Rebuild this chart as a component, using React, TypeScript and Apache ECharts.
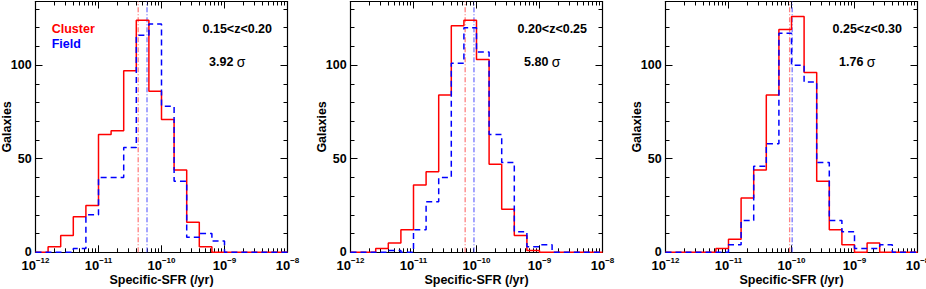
import React, { useEffect, useRef } from 'react';
import * as echarts from 'echarts';

// Histogram bins: left edges of log10(sSFR) bins, 0.2 dex wide
const binLefts = [-12.0, -11.8, -11.6, -11.4, -11.2, -11.0, -10.8, -10.6, -10.4, -10.2, -10.0, -9.8, -9.6, -9.4, -9.2, -9.0, -8.8, -8.6, -8.4, -8.2];
const binWidth = 0.2;

// Panel 1: 0.15<z<0.20
const cluster1 = [0, 3, 9, 19, 25, 63, 65, 97, 124, 86, 71, 44, 16, 3, 0, 0, 0, 0, 0, 0];
const field1 = [0, 0, 0, 2, 20, 40, 40, 56, 116, 122, 78, 38, 8, 10, 6, 0, 0, 0, 0, 0];
// Panel 2: 0.20<z<0.25
const cluster2 = [0, 0, 2, 5, 12, 36, 43, 84, 121, 124, 103, 47, 23, 9, 1, 0, 0, 0, 0, 0];
const field2 = [0, 0, 0, 1, 0, 12, 27, 40, 101, 120, 107, 63, 48, 11, 3, 4, 0, 0, 0, 0];
// Panel 3: 0.25<z<0.30
const cluster3 = [0, 0, 0, 0, 2, 7, 29, 44, 84, 119, 126, 96, 38, 12, 4, 0, 5, 0, 0, 0];
const field3 = [0, 0, 0, 0, 0, 4, 17, 46, 58, 117, 100, 91, 48, 17, 11, 2, 2, 4, 0, 0];

const clusterMedians = [-10.37, -10.18, -10.03];
const fieldMedians = [-10.23, -10.04, -9.99];
const zLabels = ['0.15<z<0.20', '0.20<z<0.25', '0.25<z<0.30'];
const sigmaLabels = ['3.92', '5.80', '1.76'];

const xMin = -12;
const xMax = -8;
const xMajorTicks = [-12, -11, -10, -9, -8];
const yMax = 134;
const yMajorTicks = [0, 50, 100];
const yMinorTicks = [10, 20, 30, 40, 60, 70, 80, 90, 110, 120, 130];

const FONT = '"Liberation Sans", Arial, Helvetica, sans-serif';
const PANEL_LEFT = [35.5, 350.5, 665.5];
const GRID_TOP = 1.5;
const GRID_W = 252;
const GRID_H = 250.8;

function histData(counts: number[]) {
  const pts: number[][] = binLefts.map((e, j) => [e, counts[j]]);
  const last = binLefts.length - 1;
  pts.push([binLefts[last] + binWidth, counts[last]]);
  return pts;
}

function buildOption() {
  const clusters = [cluster1, cluster2, cluster3];
  const fields = [field1, field2, field3];
  const xMinorTicks: number[] = [];
  for (let n = xMin; n < xMax; n++) {
    for (let k = 2; k <= 9; k++) xMinorTicks.push(n + Math.log10(k));
  }

  const grids: any[] = [];
  const xAxes: any[] = [];
  const yAxes: any[] = [];
  const series: any[] = [];
  const graphics: any[] = [];

  const axisLineStyle = { color: '#000', width: 1.2 };
  const tickStyle = { color: '#000', width: 1 };
  const labelRich = {
    b: { fontSize: 13, fontWeight: 'bold', fontFamily: FONT, color: '#000', lineHeight: 13, verticalAlign: 'bottom' },
    s: { fontSize: 8, fontWeight: 'bold', fontFamily: FONT, color: '#000', lineHeight: 8, padding: [0, 0, 7, 0], verticalAlign: 'bottom' },
  };

  for (let i = 0; i < 3; i++) {
    const L = PANEL_LEFT[i];
    grids.push({ left: L, top: GRID_TOP, width: GRID_W, height: GRID_H, containLabel: false, outerBoundsMode: 'none' });

    const xBase = { gridIndex: i, type: 'value', min: xMin, max: xMax, splitLine: { show: false } };
    xAxes.push(
      {
        ...xBase,
        position: 'bottom',
        interval: 1,
        axisLine: { show: true, onZero: false, lineStyle: axisLineStyle },
        axisTick: { show: true, inside: true, length: 7, lineStyle: tickStyle, customValues: xMajorTicks },
        axisLabel: {
          show: true,
          margin: 6.5,
          customValues: xMajorTicks,
          fontSize: 13,
          fontWeight: 'bold',
          fontFamily: FONT,
          color: '#000',
          formatter: (v: number) => {
            const e = Math.round(v);
            return '{b|10}{s|' + (e < 0 ? '\u2212' : '') + Math.abs(e) + '}';
          },
          rich: labelRich,
        },
        name: 'Specific-SFR (/yr)',
        nameLocation: 'middle',
        nameGap: 28,
        nameMoveOverlap: false,
        nameTextStyle: { fontSize: 12.5, fontWeight: 'bold', fontFamily: FONT, color: '#000', verticalAlign: 'middle' },
      },
      {
        ...xBase,
        position: 'bottom',
        axisLine: { show: false, onZero: false },
        axisTick: { show: true, inside: true, length: 4, lineStyle: tickStyle, customValues: xMinorTicks },
        axisLabel: { show: false },
      },
      {
        ...xBase,
        position: 'top',
        interval: 1,
        axisLine: { show: true, onZero: false, lineStyle: axisLineStyle },
        axisTick: { show: true, inside: true, length: 7, lineStyle: tickStyle, customValues: xMajorTicks },
        axisLabel: { show: false },
      },
      {
        ...xBase,
        position: 'top',
        axisLine: { show: false, onZero: false },
        axisTick: { show: true, inside: true, length: 4, lineStyle: tickStyle, customValues: xMinorTicks },
        axisLabel: { show: false },
      }
    );

    const yBase = { gridIndex: i, type: 'value', min: 0, max: yMax, splitLine: { show: false } };
    yAxes.push(
      {
        ...yBase,
        position: 'left',
        axisLine: { show: true, onZero: false, lineStyle: axisLineStyle },
        axisTick: { show: true, inside: true, length: 7, lineStyle: tickStyle, customValues: yMajorTicks },
        axisLabel: {
          show: true,
          margin: 3.8,
          customValues: yMajorTicks,
          fontSize: 12.5,
          fontWeight: 'bold',
          fontFamily: FONT,
          color: '#000',
        },
        name: 'Galaxies',
        nameLocation: 'middle',
        nameGap: 28.7,
        nameMoveOverlap: false,
        nameTextStyle: { fontSize: 12.5, fontWeight: 'bold', fontFamily: FONT, color: '#000', verticalAlign: 'middle' },
      },
      {
        ...yBase,
        position: 'left',
        axisLine: { show: false, onZero: false },
        axisTick: { show: true, inside: true, length: 4, lineStyle: tickStyle, customValues: yMinorTicks },
        axisLabel: { show: false },
      },
      {
        ...yBase,
        position: 'right',
        axisLine: { show: true, onZero: false, lineStyle: axisLineStyle },
        axisTick: { show: true, inside: true, length: 7, lineStyle: tickStyle, customValues: yMajorTicks },
        axisLabel: { show: false },
      },
      {
        ...yBase,
        position: 'right',
        axisLine: { show: false, onZero: false },
        axisTick: { show: true, inside: true, length: 4, lineStyle: tickStyle, customValues: yMinorTicks },
        axisLabel: { show: false },
      }
    );

    const xi = i * 4;
    const yi = i * 4;
    series.push(
      {
        type: 'line',
        name: 'Cluster median ' + (i + 1),
        xAxisIndex: xi,
        yAxisIndex: yi,
        data: [[clusterMedians[i], 0], [clusterMedians[i], yMax]],
        symbol: 'none',
        lineStyle: { color: '#ff7f7f', width: 1.3, type: [5, 2, 1, 2] },
        z: 1,
        silent: true,
      },
      {
        type: 'line',
        name: 'Field median ' + (i + 1),
        xAxisIndex: xi,
        yAxisIndex: yi,
        data: [[fieldMedians[i], 0], [fieldMedians[i], yMax]],
        symbol: 'none',
        lineStyle: { color: '#4a4aff', width: 1, type: [5, 2, 1, 2] },
        z: 1,
        silent: true,
      },
      {
        type: 'line',
        name: 'Cluster ' + (i + 1),
        xAxisIndex: xi,
        yAxisIndex: yi,
        data: histData(clusters[i]),
        step: 'end',
        symbol: 'none',
        lineStyle: { color: '#ff0000', width: 1.5 },
        z: 3,
        silent: true,
      },
      {
        type: 'line',
        name: 'Field ' + (i + 1),
        xAxisIndex: xi,
        yAxisIndex: yi,
        data: histData(fields[i]),
        step: 'end',
        symbol: 'none',
        lineStyle: { color: '#0000ff', width: 1.5, type: [6, 4] },
        z: 4,
        silent: true,
      }
    );

    graphics.push(
      {
        type: 'text',
        x: L + 167,
        y: 29,
        silent: true,
        style: {
          text: zLabels[i],
          fill: '#000',
          fontSize: 12.5,
          fontWeight: 'bold',
          fontFamily: FONT,
          align: 'left',
          verticalAlign: 'middle',
        },
      },
      {
        type: 'text',
        x: L + 173.5,
        y: 62,
        silent: true,
        style: {
          text: '{a|' + sigmaLabels[i] + ' }{g|\u03c3}',
          fill: '#000',
          align: 'left',
          verticalAlign: 'middle',
          rich: {
            a: { fontSize: 12.5, fontWeight: 'bold', fontFamily: FONT, fill: '#000', color: '#000' },
            g: { fontSize: 14, fontWeight: 'normal', fontFamily: FONT, fill: '#000', color: '#000' },
          },
        },
      }
    );
  }

  graphics.push(
    {
      type: 'text',
      x: 51.7,
      y: 29,
      silent: true,
      style: { text: 'Cluster', fill: '#ff0000', fontSize: 12.5, fontWeight: 'bold', fontFamily: FONT, align: 'left', verticalAlign: 'middle' },
    },
    {
      type: 'text',
      x: 51.7,
      y: 44,
      silent: true,
      style: { text: 'Field', fill: '#0000ff', fontSize: 12.5, fontWeight: 'bold', fontFamily: FONT, align: 'left', verticalAlign: 'middle' },
    }
  );

  return {
    animation: false,
    backgroundColor: '#ffffff',
    textStyle: { fontFamily: FONT, fontWeight: 'bold', color: '#000' },
    grid: grids,
    xAxis: xAxes,
    yAxis: yAxes,
    series,
    graphic: graphics,
  };
}

export default function App() {
  const ref = useRef<HTMLDivElement>(null);
  useEffect(() => {
    if (!ref.current) return;
    const chart = echarts.init(ref.current, null, { renderer: 'svg' });
    chart.setOption(buildOption() as any);
    return () => {
      chart.dispose();
    };
  }, []);
  return (
    <div
      ref={ref}
      style={{ position: 'absolute', left: 0, top: 0, width: 926, height: 289, background: '#fff' }}
    />
  );
}
